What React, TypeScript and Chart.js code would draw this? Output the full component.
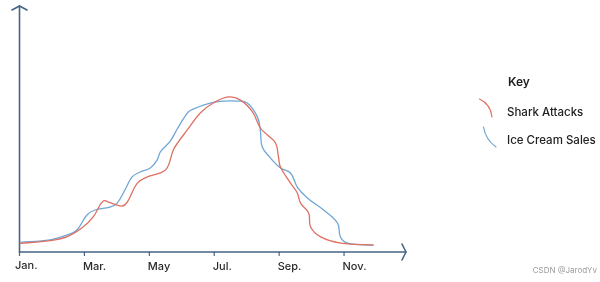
import React, { useEffect, useRef } from "react";
import { Chart, registerables } from "chart.js";

Chart.register(...registerables);

// Month index (0 = Jan) and relative value (0..100)
const sharkMonths = [0, 0.94, 1.47, 1.96, 2.27, 2.58, 2.79, 3.16, 3.32, 3.63, 3.94, 4.34, 4.55, 4.74, 4.89, 5.17, 5.57, 5.97, 6.44, 6.81, 7.18, 7.42, 7.64, 7.89, 7.98, 8.04, 8.35, 8.56, 8.66, 8.91, 8.97, 9.28, 9.9, 10.91];
const sharkValues = [3.5, 4.6, 6.2, 10.1, 14.2, 20.6, 20.0, 18.6, 20.2, 27.9, 30.4, 32.0, 34.0, 41.3, 44.5, 49.4, 56.3, 60.3, 62.8, 61.5, 56.7, 50.2, 47.4, 44.1, 38.5, 34.4, 27.9, 23.9, 19.8, 15.8, 10.1, 6.1, 3.6, 2.8];

const iceMonths = [0, 0.94, 1.47, 1.77, 2.08, 2.33, 2.79, 3.01, 3.28, 3.47, 3.72, 4.03, 4.24, 4.34, 4.65, 4.86, 5.11, 5.26, 5.88, 6.28, 6.71, 7.02, 7.33, 7.42, 7.48, 7.73, 8.04, 8.35, 8.56, 8.87, 9.37, 9.8, 9.89, 10.11, 10.91];
const iceValues = [3.9, 4.9, 6.9, 8.9, 15.0, 17.0, 18.2, 19.8, 25.9, 30.4, 32.4, 34.0, 37.2, 40.5, 45.0, 49.8, 55.1, 57.3, 60.3, 61.1, 61.1, 60.3, 54.7, 49.4, 42.5, 38.1, 34.0, 32.0, 26.3, 21.9, 17.0, 11.7, 6.1, 3.6, 2.8];

const tickMonths = [0, 2, 4, 6, 8, 10];
const tickLabels = ["Jan.", "Mar.", "May", "Jul.", "Sep.", "Nov."];

const seriesNames = ["Shark Attacks", "Ice Cream Sales"];
const keyTitle = "Key";
const watermark = "CSDN @JarodYv";

const RED = "rgb(222,112,98)";
const BLUE = "rgb(112,166,214)";
const AXIS = "rgb(70,100,135)";
const FONT = "Inter, 'Open Sans', sans-serif";

const decorPlugin = {
  id: "decor",
  beforeDatasetsDraw(chart: any) {
    const ctx = chart.ctx as CanvasRenderingContext2D;
    const xs = chart.scales.x;
    const ys = chart.scales.y;
    const x0 = xs.getPixelForValue(0);
    const y0 = ys.getPixelForValue(0);
    const top = ys.getPixelForValue(100);
    const right = xs.getPixelForValue(xs.max);
    ctx.save();
    ctx.strokeStyle = AXIS;
    ctx.lineWidth = 1.6;
    ctx.lineCap = "round";
    ctx.lineJoin = "round";
    // y axis
    ctx.beginPath();
    ctx.moveTo(x0, y0);
    ctx.lineTo(x0, top + 1);
    ctx.stroke();
    ctx.beginPath();
    ctx.moveTo(x0 - 7.5, top + 5);
    ctx.lineTo(x0, top + 1);
    ctx.lineTo(x0 + 7.5, top + 5);
    ctx.stroke();
    // x axis
    ctx.beginPath();
    ctx.moveTo(x0, y0);
    ctx.lineTo(right - 1, y0);
    ctx.stroke();
    ctx.beginPath();
    ctx.moveTo(right - 5, y0 - 8);
    ctx.lineTo(right - 1, y0);
    ctx.lineTo(right - 5, y0 + 8);
    ctx.stroke();
    // ticks & labels
    ctx.lineWidth = 1.2;
    ctx.fillStyle = "#2a2a2a";
    ctx.font = `500 11px ${FONT}`;
    ctx.textBaseline = "middle";
    ctx.textAlign = "left";
    tickMonths.forEach((m, i) => {
      const px = xs.getPixelForValue(m);
      ctx.beginPath();
      ctx.moveTo(px, y0);
      ctx.lineTo(px, y0 + 3.5);
      ctx.stroke();
      const off = i === 0 ? -4.5 : -1.5;
      ctx.fillText(tickLabels[i], px + off, y0 + (i === 0 ? 13.5 : 15));
    });
    ctx.restore();
  },
  afterDraw(chart: any) {
    const ctx = chart.ctx as CanvasRenderingContext2D;
    ctx.save();
    ctx.fillStyle = "#222";
    ctx.textBaseline = "middle";
    ctx.textAlign = "left";
    ctx.font = `600 12px ${FONT}`;
    ctx.fillText(keyTitle, 508, 82);
    ctx.font = `500 11.5px ${FONT}`;
    ctx.fillText(seriesNames[0], 507, 113);
    ctx.fillText(seriesNames[1], 507, 141);
    ctx.lineWidth = 1.2;
    ctx.lineCap = "round";
    ctx.strokeStyle = RED;
    ctx.beginPath();
    ctx.moveTo(479.5, 99);
    ctx.bezierCurveTo(486, 102, 491, 108, 492, 117);
    ctx.stroke();
    ctx.strokeStyle = BLUE;
    ctx.beginPath();
    ctx.moveTo(483.5, 127);
    ctx.bezierCurveTo(485, 136, 489, 142, 496, 147);
    ctx.stroke();
    ctx.fillStyle = "#9a9a9a";
    ctx.font = `8px ${FONT}`;
    ctx.textAlign = "right";
    ctx.fillText(watermark, 597, 271);
    ctx.restore();
  },
};

export default function App() {
  const ref = useRef<HTMLCanvasElement | null>(null);
  useEffect(() => {
    if (!ref.current) return;
    const chart = new Chart(ref.current, {
      type: "line",
      data: {
        datasets: [
          {
            label: seriesNames[0],
            data: sharkMonths.map((m, i) => ({ x: m, y: sharkValues[i] })),
            borderColor: RED,
            borderWidth: 1.3,
            pointRadius: 0,
            tension: 0.4,
            fill: false,
          },
          {
            label: seriesNames[1],
            data: iceMonths.map((m, i) => ({ x: m, y: iceValues[i] })),
            borderColor: BLUE,
            borderWidth: 1.3,
            pointRadius: 0,
            tension: 0.4,
            fill: false,
          },
        ],
      },
      options: {
        responsive: false,
        animation: false,
        layout: { padding: { left: 19.5, right: 193, top: 5, bottom: 30 } },
        scales: {
          x: { type: "linear", min: 0, max: 11.94, display: false },
          y: { type: "linear", min: 0, max: 100, display: false },
        },
        plugins: { legend: { display: false }, tooltip: { enabled: false } },
      },
      plugins: [decorPlugin],
    });
    return () => chart.destroy();
  }, []);
  return (
    <div style={{ position: "fixed", left: 0, top: 0, width: 600, height: 282, background: "#fff" }}>
      <canvas ref={ref} width={600} height={282} style={{ display: "block" }} />
    </div>
  );
}
